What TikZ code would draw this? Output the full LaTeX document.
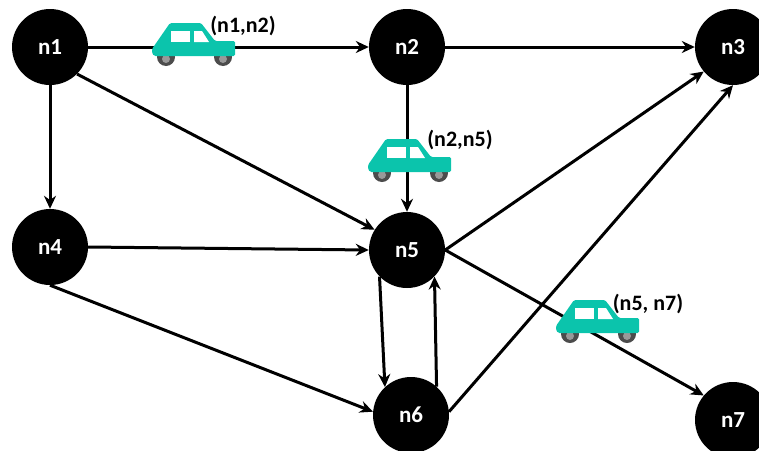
\documentclass[tikz,border=0pt]{standalone}
\usepackage{fontspec}
\setmainfont{Carlito}
\usetikzlibrary{arrows.meta}
\definecolor{cartone}{HTML}{0BC4AC}
\tikzset{
  netnode/.style={circle,fill=black,text=white,minimum size=76pt,inner sep=0pt,font=\fontsize{23}{23}\selectfont\bfseries},
  link/.style={draw=black,line width=3pt,-{Stealth[length=13pt,width=12pt]}},
  carlabel/.style={text=black,inner sep=0pt,font=\fontsize{22}{22}\selectfont\bfseries},
  carcar/.pic={
    \fill[black!70] (14,34) circle (9);
    \fill[black!70] (71,34) circle (9);
    \fill[black!40] (14,36) circle (4);
    \fill[black!40] (71,36) circle (4);
    \fill[cartone,rounded corners=1.5pt] (0,26) -- (18,0) -- (49,0) -- (63,18) -- (83,18) -- (83,33) -- (2,33) -- (0,30) -- cycle;
    \fill[white] (19,8) rectangle (38,19);
    \fill[white] (42,8) -- (50,8) -- (57,19) -- (42,19) -- cycle;
  }
}
\begin{document}
\begin{tikzpicture}[x=1pt,y=-1pt]
\useasboundingbox (0,0) rectangle (759,450);
\begin{scope}
\clip (0,0) rectangle (759,450);
\node[netnode] (n1) at (50,47) {n1};
\node[netnode] (n2) at (407,47) {n2};
\node[netnode] (n3) at (733,47) {n3};
\node[netnode] (n4) at (50,247) {n4};
\node[netnode] (n5) at (407,250) {n5};
\node[netnode] (n6) at (411,415) {n6};
\node[netnode] (n7) at (733,420) {n7};
\end{scope}
\draw[link] (n1.east) -- (n2.west);
\draw[link] (n2.east) -- (n3.west);
\draw[link] (n1.south) -- (n4.north);
\draw[link] (n1.-45) -- (n5.148);
\draw[link] (n2.south) -- (n5.north);
\draw[link] (n4.east) -- (n5.west);
\draw[link] (n4.south) -- (n6.175);
\draw[link] (n5.224) -- (n6.133);
\draw[link] (n6.48) -- (n5.-44);
\draw[link] (n5.east) -- (n3.220);
\draw[link] (n6.5) -- (n3.south);
\draw[link] (n5.east) -- (n7.140);
\pic at (152,23) {carcar};
\pic at (368,139) {carcar};
\pic at (556,300) {carcar};
\node[carlabel] (l12) at (243,26) {(n1,n2)};
\node[carlabel] (l25) at (460,140) {(n2,n5)};
\node[carlabel] (l57) at (648,304) {(n5, n7)};
\end{tikzpicture}
\end{document}
